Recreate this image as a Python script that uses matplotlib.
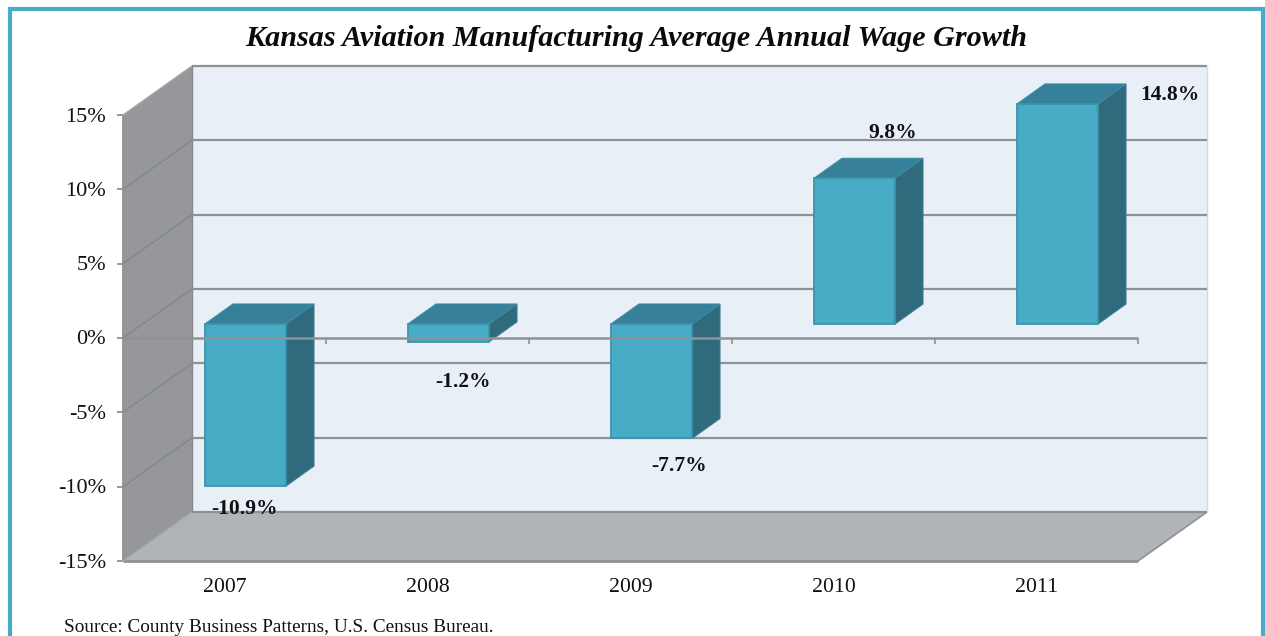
import matplotlib
matplotlib.use('Agg')
import matplotlib.pyplot as plt
from matplotlib.patches import Polygon, Rectangle

years = ['2007', '2008', '2009', '2010', '2011']
growth = [-10.9, -1.2, -7.7, 9.8, 14.8]
labels = ['-10.9%', '-1.2%', '-7.7%', '9.8%', '14.8%']
y_ticks = [-15, -10, -5, 0, 5, 10, 15]

W, H = 1265, 636
TEAL = '#49acc7'
GRID = '#8f9194'

plt.rcParams['font.family'] = ['Liberation Serif', 'DejaVu Serif']

fig = plt.figure(figsize=(W / 100, H / 100), dpi=100)

# the axes is the front plane of the 3d box
left, right, top, bottom = 123, 1138, 115, 561
ax = fig.add_axes([left / W, 1 - bottom / H, (right - left) / W, (bottom - top) / H])
ax.set_xlim(-0.5, 4.5)
ax.set_ylim(-15, 15)
ax.axis('off')

px_x = 5 / (right - left)
px_y = 30 / (bottom - top)


def shift(x, y, dx, dy):
    """Move a data point by a number of pixels"""
    return x + dx * px_x, y - dy * px_y


def poly(points, color, edge=None, lw=0, z=1):
    ax.add_patch(Polygon(points, closed=True, facecolor=color, edgecolor=edge or color,
                         linewidth=lw, clip_on=False, zorder=z))


def line(x, y, color=GRID, lw=1.5, z=2):
    ax.plot(x, y, color=color, linewidth=lw, clip_on=False, zorder=z, solid_capstyle='butt')


# box depth in pixels
DX, DY = 69, -49
x0, x1 = -0.5, 4.5
y0, y1 = -15, 15


def back(x, y):
    return shift(x, y, DX, DY)


# back wall, side wall, floor
poly([back(x0, y0), back(x1, y0), back(x1, y1), back(x0, y1)], '#e8eff6', z=0)
poly([(x0, y0), back(x0, y0), back(x0, y1), (x0, y1)], '#95979b', z=0)
poly([(x0, y0), (x1, y0), back(x1, y0), back(x0, y0)], '#b0b4b8', z=0)

# wall outline
line([back(x0, y1)[0], back(x1, y1)[0]], [back(x0, y1)[1]] * 2, lw=1.6)
line([back(x1, y0)[0], back(x1, y1)[0]], [back(x1, y0)[1], back(x1, y1)[1]], color='#d5dade', lw=1)
line([x0, x0], [y0, y1], lw=1.3)
line([x0, x1], [y0, y0], lw=2)
line([back(x0, y0)[0], back(x1, y0)[0]], [back(x0, y0)[1]] * 2, lw=1.6)
line([back(x0, y0)[0], back(x0, y1)[0]], [back(x0, y0)[1], back(x0, y1)[1]], color='#85888b', lw=1)
line([x1, back(x1, y0)[0]], [y0, back(x1, y0)[1]], lw=1.2)
line([x0, back(x0, y0)[0]], [y0, back(x0, y0)[1]], color='#a5a8ab', lw=1)
line([x0, back(x0, y1)[0]], [y1, back(x0, y1)[1]], color='#a5a8ab', lw=1)

# gridlines run along the side wall and across the back
for v in y_ticks:
    if v in (-15, 15):
        continue
    bx, by = back(x0, v)
    line([x0, bx], [v, by], color='#85888b', lw=1.1)
    line([bx, back(x1, v)[0]], [by, by], lw=1.6)

# bars sit in the middle of the box depth
OFF_X, OFF_Y = 21, -14
BAR_W = 81
BAR_DX, BAR_DY = 28, -20
for i, v in enumerate(growth):
    xa, ya = shift(i, 0, OFF_X - BAR_W / 2, OFF_Y)
    xb, yb = shift(i, v, OFF_X + BAR_W / 2, OFF_Y)
    low, high = min(ya, yb), max(ya, yb)
    side = [(xb, low), shift(xb, low, BAR_DX, BAR_DY), shift(xb, high, BAR_DX, BAR_DY), (xb, high)]
    lid = [(xa, high), (xb, high), shift(xb, high, BAR_DX, BAR_DY), shift(xa, high, BAR_DX, BAR_DY)]
    poly(side, '#2f6b7d', edge='#3a7c90', lw=0.8, z=3)
    poly(lid, '#37809a', edge='#3a8aa3', lw=0.8, z=3)
    ax.add_patch(Rectangle((xa, low), xb - xa, high - low, facecolor=TEAL, edgecolor='#3f92ab',
                           linewidth=1.3, clip_on=False, zorder=4))

# zero axis passes in front of the bars, with its ticks
line([x0, x1], [0, 0], lw=1.8, z=5)
for i in range(1, 6):
    x = x0 + i
    line([x, x], [0, shift(x, 0, 0, 6)[1]], lw=1.2, z=5)

# y axis ticks and labels
for v in y_ticks:
    line([shift(x0, v, -6, 0)[0], x0], [v, v], lw=1.3)
    lx, ly = shift(x0, v, -17, 2)
    ax.text(lx, ly, f'{v}%', ha='right', va='center', fontsize=16, color='#111111')

for i, y in enumerate(years):
    ax.text(i, shift(i, y0, 0, 26)[1], y, ha='center', va='center', fontsize=15.7, color='#111111')

# value labels were placed by hand, so each has its own pixel offset
label_pos = [(20, 23), (36, 40), (49, 28), (59, -45), (133, -9)]
for i, v in enumerate(growth):
    dx, dy = label_pos[i]
    px, py = shift(i, v, dx, OFF_Y + dy)
    ax.text(px, py, labels[i], ha='center', va='center', fontsize=15.5, fontweight='bold',
            color='#111111', zorder=6)

fig.text(636.5 / W, 1 - 38 / H, 'Kansas Aviation Manufacturing Average Annual Wage Growth',
         ha='center', va='center', fontsize=21.7, fontweight='bold', fontstyle='italic', color='#0a0a0a')
fig.text(64 / W, 1 - 628 / H, 'Source: County Business Patterns, U.S. Census Bureau.',
         ha='left', va='center', fontsize=13.9, color='#111111')

# teal frame, open at the bottom edge of the page
fig.add_artist(plt.Line2D([9.5 / W, 9.5 / W, 1263 / W, 1263 / W],
                          [0, 1 - 9 / H, 1 - 9 / H, 0],
                          color=TEAL, linewidth=3, solid_joinstyle='miter'))

fig.savefig('out.png', dpi=100)
